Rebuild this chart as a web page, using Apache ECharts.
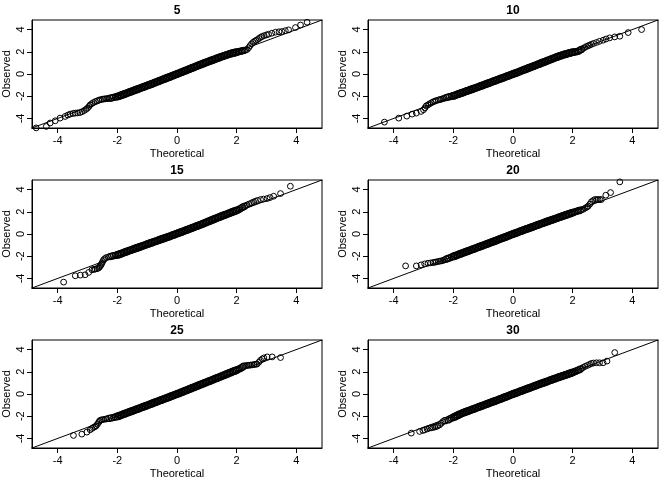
<!DOCTYPE html>
<html>
<head>
<meta charset="utf-8">
<script src="https://cdn.jsdelivr.net/npm/echarts@6/dist/echarts.min.js"></script>
<style>
html,body{margin:0;padding:0;background:#fff;}
#chart{width:672px;height:480px;}
</style>
</head>
<body>
<div id="chart"></div>
<script>
// ---------- data ----------
const panelTitles = ['5', '10', '15', '20', '25', '30'];
const tickValues = [-4, -2, 0, 2, 4];
const axisLimits = [-4.86, 4.86];
const identityRange = [-5, 5];

// theoretical quantiles of the dense central band
const theoMid = [-2.00,-1.95,-1.90,-1.85,-1.80,-1.75,-1.70,-1.65,-1.60,-1.55,-1.50,-1.45,-1.40,-1.35,-1.30,-1.25,-1.20,-1.15,-1.10,-1.05,
  -1.00,-0.95,-0.90,-0.85,-0.80,-0.75,-0.70,-0.65,-0.60,-0.55,-0.50,-0.45,-0.40,-0.35,-0.30,-0.25,-0.20,-0.15,-0.10,-0.05,
  0.00,0.05,0.10,0.15,0.20,0.25,0.30,0.35,0.40,0.45,0.50,0.55,0.60,0.65,0.70,0.75,0.80,0.85,0.90,0.95,
  1.00,1.05,1.10,1.15,1.20,1.25,1.30,1.35,1.40,1.45,1.50,1.55,1.60,1.65,1.70,1.75,1.80,1.85,1.90,1.95,2.00];

// panel "5"
const obsMid5 = [-2.03,-1.99,-1.94,-1.89,-1.84,-1.79,-1.74,-1.69,-1.64,-1.59,-1.54,-1.49,-1.44,-1.39,-1.34,-1.29,-1.24,-1.19,-1.14,-1.09,
  -1.04,-0.99,-0.94,-0.89,-0.84,-0.78,-0.73,-0.68,-0.63,-0.57,-0.52,-0.47,-0.42,-0.36,-0.31,-0.26,-0.21,-0.15,-0.10,-0.05,
  0.00,0.06,0.11,0.16,0.22,0.27,0.32,0.38,0.43,0.49,0.54,0.59,0.65,0.70,0.76,0.81,0.86,0.91,0.97,1.02,
  1.07,1.12,1.17,1.22,1.27,1.32,1.37,1.42,1.47,1.52,1.57,1.61,1.66,1.70,1.75,1.79,1.83,1.87,1.90,1.94,1.97];
const lower5 = [[-4.72,-4.85],[-4.38,-4.72],[-4.25,-4.41],[-4.08,-4.21],[-3.92,-3.97],[-3.75,-3.82],[-3.66,-3.7],[-3.58,-3.61],
  [-3.48,-3.55],[-3.41,-3.52],[-3.33,-3.5],[-3.25,-3.47],[-3.18,-3.39],[-3.11,-3.29],[-3.05,-3.18],[-3.0,-3.07],[-2.95,-2.92],
  [-2.91,-2.78],[-2.86,-2.67],[-2.8,-2.57],[-2.74,-2.49],[-2.68,-2.42],[-2.62,-2.36],[-2.56,-2.3],[-2.5,-2.27],[-2.45,-2.25],
  [-2.4,-2.23],[-2.35,-2.22],[-2.3,-2.21],[-2.24,-2.18],[-2.18,-2.14],[-2.12,-2.1],[-2.06,-2.06]];
const upper5 = [[2.05,2.0],[2.1,2.03],[2.15,2.06],[2.2,2.1],[2.25,2.13],[2.3,2.16],[2.35,2.2],[2.4,2.36],[2.45,2.55],
  [2.5,2.72],[2.55,2.85],[2.6,2.95],[2.65,3.02],[2.7,3.1],[2.75,3.2],[2.8,3.3],[2.85,3.37],[2.92,3.45],[3.0,3.52],[3.07,3.58],
  [3.18,3.67],[3.3,3.76],[3.42,3.8],[3.52,3.82],[3.63,3.9],[3.74,3.97],[3.97,4.18],[4.14,4.41],[4.36,4.66]];

// panel "10"
const obsMid10 = [-1.97,-1.92,-1.87,-1.82,-1.77,-1.73,-1.68,-1.63,-1.58,-1.53,-1.49,-1.44,-1.39,-1.34,-1.29,-1.24,-1.20,-1.15,-1.10,-1.05,
  -1.00,-0.95,-0.90,-0.85,-0.80,-0.75,-0.70,-0.65,-0.60,-0.55,-0.50,-0.45,-0.40,-0.35,-0.30,-0.25,-0.20,-0.15,-0.10,-0.05,
  0.00,0.05,0.10,0.15,0.20,0.26,0.31,0.36,0.41,0.46,0.52,0.57,0.62,0.67,0.72,0.78,0.83,0.88,0.93,0.99,
  1.04,1.09,1.14,1.20,1.25,1.30,1.36,1.41,1.46,1.51,1.56,1.61,1.65,1.70,1.74,1.78,1.82,1.86,1.90,1.93,1.96];
const lower10 = [[-4.31,-4.33],[-3.83,-3.97],[-3.56,-3.79],[-3.38,-3.61],[-3.24,-3.52],[-3.08,-3.37],[-3.0,-3.22],[-2.95,-3.05],
  [-2.91,-2.87],[-2.85,-2.78],[-2.8,-2.69],[-2.74,-2.6],[-2.68,-2.51],[-2.62,-2.45],[-2.57,-2.39],[-2.5,-2.34],[-2.45,-2.3],
  [-2.4,-2.27],[-2.35,-2.22],[-2.3,-2.18],[-2.24,-2.12],[-2.18,-2.08],[-2.12,-2.04],[-2.06,-2.0]];
const upper10 = [[2.05,1.98],[2.1,2.0],[2.15,2.02],[2.2,2.08],[2.25,2.15],[2.29,2.21],[2.35,2.3],[2.4,2.38],[2.46,2.47],
  [2.52,2.54],[2.57,2.6],[2.63,2.67],[2.7,2.75],[2.8,2.84],[2.9,2.94],[3.02,3.04],[3.12,3.15],[3.24,3.25],[3.41,3.34],
  [3.58,3.4],[3.86,3.73],[4.31,4.0]];

// panel "15"
const obsMid15 = [-1.88,-1.84,-1.79,-1.74,-1.69,-1.64,-1.59,-1.54,-1.49,-1.45,-1.40,-1.35,-1.30,-1.26,-1.21,-1.16,-1.11,-1.06,-1.02,-0.97,
  -0.92,-0.87,-0.83,-0.78,-0.73,-0.68,-0.64,-0.59,-0.54,-0.49,-0.45,-0.40,-0.35,-0.30,-0.26,-0.21,-0.16,-0.11,-0.06,-0.01,
  0.04,0.09,0.14,0.19,0.24,0.29,0.34,0.39,0.44,0.49,0.55,0.60,0.65,0.70,0.75,0.80,0.85,0.91,0.96,1.02,
  1.07,1.13,1.18,1.24,1.29,1.35,1.40,1.46,1.51,1.56,1.62,1.67,1.72,1.77,1.82,1.87,1.93,1.98,2.03,2.08,2.13];
const lower15 = [[-3.8,-4.33],[-3.41,-3.76],[-3.24,-3.7],[-3.08,-3.67],[-2.96,-3.46],[-2.85,-3.22],[-2.78,-3.18],[-2.74,-3.16],
  [-2.68,-3.12],[-2.63,-3.07],[-2.6,-2.98],[-2.57,-2.87],[-2.54,-2.75],[-2.52,-2.63],[-2.49,-2.48],[-2.46,-2.33],[-2.42,-2.22],
  [-2.37,-2.12],[-2.3,-2.07],[-2.24,-2.03],[-2.18,-1.99],[-2.12,-1.95],[-2.06,-1.92]];
const upper15 = [[2.05,2.18],[2.1,2.25],[2.15,2.33],[2.2,2.41],[2.25,2.48],[2.3,2.55],[2.35,2.62],[2.42,2.7],[2.5,2.8],
  [2.57,2.88],[2.63,2.95],[2.7,3.02],[2.8,3.1],[2.9,3.14],[3.02,3.19],[3.12,3.28],[3.24,3.4],[3.47,3.64],[3.8,4.3]];

// panel "20"
const obsMid20 = [-2.02,-1.97,-1.92,-1.87,-1.82,-1.77,-1.72,-1.67,-1.62,-1.57,-1.52,-1.47,-1.42,-1.37,-1.32,-1.27,-1.22,-1.17,-1.12,-1.07,
  -1.02,-0.97,-0.92,-0.87,-0.82,-0.77,-0.72,-0.67,-0.62,-0.57,-0.51,-0.46,-0.41,-0.36,-0.31,-0.26,-0.21,-0.15,-0.10,-0.05,
  0.00,0.05,0.10,0.15,0.20,0.25,0.30,0.35,0.40,0.45,0.49,0.54,0.59,0.64,0.69,0.74,0.79,0.84,0.89,0.94,
  0.98,1.03,1.08,1.13,1.18,1.23,1.27,1.32,1.37,1.41,1.46,1.51,1.55,1.60,1.65,1.69,1.74,1.79,1.83,1.88,1.93];
const lower20 = [[-3.6,-2.87],[-3.24,-2.87],[-3.08,-2.78],[-2.96,-2.69],[-2.85,-2.63],[-2.76,-2.6],[-2.68,-2.57],[-2.62,-2.54],
  [-2.57,-2.51],[-2.5,-2.47],[-2.45,-2.44],[-2.4,-2.42],[-2.35,-2.38],[-2.3,-2.33],[-2.24,-2.27],[-2.18,-2.2],[-2.12,-2.14],[-2.06,-2.08]];
const upper20 = [[2.05,1.97],[2.1,2.02],[2.15,2.06],[2.2,2.1],[2.25,2.14],[2.3,2.18],[2.35,2.22],[2.42,2.33],[2.48,2.43],
  [2.52,2.51],[2.58,2.7],[2.63,2.9],[2.68,3.0],[2.74,3.1],[2.8,3.1],[2.85,3.1],[2.91,3.1],[2.96,3.1],[3.11,3.49],[3.27,3.73],[3.58,4.69]];

// panel "25"
const obsMid25 = [-2.02,-1.97,-1.92,-1.87,-1.82,-1.77,-1.72,-1.67,-1.62,-1.57,-1.52,-1.47,-1.42,-1.37,-1.32,-1.27,-1.22,-1.17,-1.12,-1.07,
  -1.02,-0.97,-0.92,-0.87,-0.81,-0.76,-0.71,-0.66,-0.61,-0.56,-0.51,-0.46,-0.41,-0.36,-0.31,-0.26,-0.20,-0.15,-0.10,-0.05,
  0.00,0.05,0.10,0.16,0.21,0.27,0.32,0.37,0.43,0.48,0.54,0.59,0.64,0.70,0.75,0.81,0.86,0.91,0.97,1.02,
  1.07,1.13,1.18,1.23,1.29,1.34,1.40,1.45,1.50,1.56,1.61,1.67,1.72,1.78,1.83,1.89,1.94,2.00,2.05,2.10,2.15];
const lower25 = [[-3.47,-3.73],[-3.19,-3.61],[-3.02,-3.43],[-2.91,-3.22],[-2.85,-3.1],[-2.8,-3.01],[-2.75,-2.94],[-2.71,-2.87],
  [-2.67,-2.72],[-2.63,-2.57],[-2.6,-2.45],[-2.57,-2.36],[-2.52,-2.32],[-2.46,-2.29],[-2.4,-2.26],[-2.35,-2.24],[-2.28,-2.2],
  [-2.2,-2.15],[-2.12,-2.1],[-2.06,-2.06]];
const upper25 = [[2.05,2.22],[2.1,2.28],[2.15,2.35],[2.2,2.43],[2.24,2.51],[2.3,2.55],[2.36,2.57],[2.41,2.59],[2.46,2.6],
  [2.52,2.62],[2.58,2.65],[2.63,2.67],[2.68,2.69],[2.74,2.85],[2.8,3.04],[2.86,3.15],[2.91,3.25],[3.02,3.34],[3.19,3.34],[3.47,3.28]];

// panel "30"
const obsMid30 = [-2.10,-2.04,-1.97,-1.91,-1.84,-1.78,-1.72,-1.67,-1.62,-1.57,-1.52,-1.47,-1.42,-1.37,-1.32,-1.27,-1.22,-1.17,-1.12,-1.07,
  -1.02,-0.97,-0.92,-0.87,-0.82,-0.77,-0.72,-0.67,-0.62,-0.57,-0.52,-0.47,-0.42,-0.37,-0.31,-0.26,-0.21,-0.16,-0.10,-0.05,
  0.00,0.05,0.10,0.15,0.20,0.25,0.30,0.35,0.40,0.45,0.50,0.55,0.60,0.65,0.70,0.75,0.80,0.85,0.90,0.95,
  0.99,1.04,1.09,1.14,1.19,1.24,1.29,1.34,1.38,1.43,1.48,1.53,1.57,1.62,1.66,1.71,1.75,1.80,1.85,1.90,1.95];
const lower30 = [[-3.41,-3.52],[-3.13,-3.37],[-3.02,-3.28],[-2.96,-3.22],[-2.88,-3.15],[-2.8,-3.07],[-2.74,-3.04],[-2.68,-3.01],
  [-2.62,-2.97],[-2.57,-2.93],[-2.52,-2.86],[-2.46,-2.78],[-2.4,-2.63],[-2.35,-2.48],[-2.28,-2.4],[-2.18,-2.33],[-2.12,-2.25],[-2.06,-2.17]];
const upper30 = [[2.05,2.0],[2.1,2.05],[2.15,2.11],[2.2,2.17],[2.25,2.23],[2.3,2.3],[2.35,2.39],[2.42,2.49],[2.5,2.58],
  [2.57,2.67],[2.63,2.75],[2.7,2.79],[2.8,2.81],[2.9,2.81],[3.02,2.81],[3.15,2.96],[3.41,3.73]];

const obsMids = [obsMid5, obsMid10, obsMid15, obsMid20, obsMid25, obsMid30];
const lowers = [lower5, lower10, lower15, lower20, lower25, lower30];
const uppers = [upper5, upper10, upper15, upper20, upper25, upper30];

// ---------- chart ----------
const FONT = '"Liberation Sans", Arial, sans-serif';
const chart = echarts.init(document.getElementById('chart'), null, {renderer: 'canvas'});

const grids = [], xAxes = [], yAxes = [], series = [], graphics = [];
const circleStyle = {color: 'rgba(0,0,0,0)', borderColor: '#000', borderWidth: 1, opacity: 1};
panelTitles.forEach((title, i) => {
  const col = i % 2, row = Math.floor(i / 2);
  const left = 32 + col * 336, top = 20 + row * 160, w = 290, h = 108;
  grids.push({left, top, width: w, height: h, show: true, borderColor: '#000', borderWidth: 1,
    backgroundColor: 'transparent', containLabel: false});
  xAxes.push({
    gridIndex: i, type: 'value', min: axisLimits[0], max: axisLimits[1],
    splitLine: {show: false},
    axisLine: {show: true, onZero: false, lineStyle: {color: '#000', width: 1}},
    axisTick: {show: true, customValues: tickValues, length: 5, lineStyle: {color: '#000', width: 1}},
    axisLabel: {customValues: tickValues, color: '#000', fontSize: 11, fontFamily: FONT, margin: 7},
    name: 'Theoretical', nameLocation: 'middle', nameGap: 20,
    nameTextStyle: {color: '#000', fontSize: 11, fontFamily: FONT}
  });
  yAxes.push({
    gridIndex: i, type: 'value', min: axisLimits[0], max: axisLimits[1],
    splitLine: {show: false},
    axisLine: {show: true, onZero: false, lineStyle: {color: '#000', width: 1}},
    axisTick: {show: true, customValues: tickValues, length: 5, lineStyle: {color: '#000', width: 1}},
    axisLabel: {customValues: tickValues, color: '#000', fontSize: 11, fontFamily: FONT, margin: 6, rotate: 90},
    name: 'Observed', nameLocation: 'middle', nameGap: 20, nameRotate: 90,
    nameTextStyle: {color: '#000', fontSize: 11, fontFamily: FONT}
  });
  const tails = lowers[i].concat(uppers[i]);
  const mid = theoMid.map((x, k) => [x, obsMids[i][k]]);
  series.push({
    type: 'line', xAxisIndex: i, yAxisIndex: i, silent: true, clip: true,
    data: [[identityRange[0], identityRange[0]], [identityRange[1], identityRange[1]]],
    symbol: 'none', lineStyle: {color: '#000', width: 1}, z: 3
  });
  series.push({
    type: 'scatter', xAxisIndex: i, yAxisIndex: i, silent: true, clip: true,
    data: mid, symbol: 'circle', symbolSize: 6.5,
    itemStyle: Object.assign({}, circleStyle, {borderWidth: 1.3}), z: 2
  });
  series.push({
    type: 'scatter', xAxisIndex: i, yAxisIndex: i, silent: true, clip: true,
    data: tails, symbol: 'circle',
    // the dense shoulders of the band are drawn a little heavier
    symbolSize: (v) => (Math.abs(v[0]) < 2.3 ? 6.3 : 5.8),
    itemStyle: circleStyle, z: 2
  });
  graphics.push({
    type: 'text', x: left + w / 2, y: top - 9,
    style: {text: title, fill: '#000', fontSize: 12, fontWeight: 'bold', fontFamily: FONT,
      align: 'center', verticalAlign: 'middle'}
  });
});

chart.setOption({
  animation: false,
  backgroundColor: '#fff',
  grid: grids, xAxis: xAxes, yAxis: yAxes, series, graphic: graphics
});
</script>
</body>
</html>
